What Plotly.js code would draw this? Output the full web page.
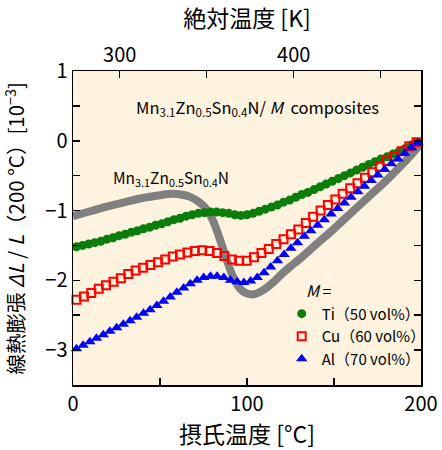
<!DOCTYPE html>
<html><head><meta charset="utf-8">
<script src="https://cdn.plot.ly/plotly-3.0.1.min.js"></script>
<style>html,body{margin:0;padding:0;background:#fff;}</style>
</head><body><div id="chart" style="width:442px;height:450px;"></div>
<script>
// Pure Mn3.1Zn0.5Sn0.4N (grey)
const pureT = [0,10,20,30,40,50,57,62,67,72,76,80,84,88,92,96,100,104,110,115,120,125,130,140,150,160,170,180,190,200];
const pureV = [-1.08,-1.01,-0.94,-0.88,-0.82,-0.78,-0.76,-0.77,-0.80,-0.87,-0.96,-1.12,-1.38,-1.68,-1.95,-2.12,-2.19,-2.20,-2.13,-2.03,-1.91,-1.80,-1.70,-1.48,-1.26,-1.03,-0.80,-0.57,-0.32,-0.04];
// M = Ti (50 vol%)
const tiT = [2,5.5,9,12.5,16,19.5,23,26.5,30,33.5,37,40.5,44,47.5,51,54.5,58,61.5,65,68.5,72,75.5,79,82.5,86,89.5,93,96.5,100,103.5,107,110.5,114,117.5,121,124.5,128,131.5,135,138.5,142,145.5,149,152.5,156,159.5,163,166.5,170,173.5,177,180.5,184,187.5,191,194.5,198];
const tiV = [-1.52,-1.50,-1.48,-1.46,-1.44,-1.41,-1.39,-1.36,-1.34,-1.31,-1.29,-1.26,-1.24,-1.21,-1.19,-1.16,-1.13,-1.11,-1.08,-1.06,-1.04,-1.03,-1.02,-1.02,-1.03,-1.04,-1.06,-1.07,-1.06,-1.04,-1.01,-0.98,-0.95,-0.92,-0.88,-0.85,-0.81,-0.77,-0.74,-0.70,-0.66,-0.62,-0.58,-0.54,-0.50,-0.46,-0.42,-0.38,-0.34,-0.30,-0.26,-0.23,-0.19,-0.15,-0.11,-0.06,-0.02];
// M = Cu (60 vol%)
const cuT = [2,6.3,10.5,14.8,19,23.3,27.5,31.8,36,40.3,44.5,48.8,53,57.3,61.5,65.8,70,74.3,78.5,82.8,87,91.3,95.5,99.8,104,108.3,112.5,116.8,121,125.3,129.5,133.8,138,142.3,146.5,150.8,155,159.3,163.5,167.8,172,176.3,180.5,184.8,189,193.3,197.5];
const cuV = [-2.28,-2.23,-2.18,-2.12,-2.07,-2.02,-1.97,-1.91,-1.86,-1.82,-1.78,-1.74,-1.70,-1.66,-1.63,-1.60,-1.58,-1.57,-1.58,-1.61,-1.65,-1.70,-1.72,-1.72,-1.67,-1.61,-1.55,-1.48,-1.41,-1.34,-1.27,-1.18,-1.09,-1.00,-0.92,-0.84,-0.76,-0.68,-0.61,-0.53,-0.45,-0.37,-0.29,-0.22,-0.15,-0.08,-0.02];
// M = Al (70 vol%)
const alT = [2,5.8,9.7,13.5,17.4,21.2,25.1,28.9,32.8,36.6,40.5,44.3,48.2,52,55.9,59.7,63.6,67.4,71.3,75.1,79,82.8,86.7,90.5,94.4,98.2,102.1,105.9,109.8,113.6,117.5,121.3,125.2,129,132.9,136.7,140.6,144.4,148.3,152.1,156,159.8,163.7,167.5,171.4,175.2,179.1,182.9,186.8,190.6,194.5,198.3];
const alV = [-2.98,-2.93,-2.88,-2.83,-2.78,-2.73,-2.68,-2.63,-2.58,-2.53,-2.47,-2.42,-2.36,-2.30,-2.24,-2.17,-2.11,-2.05,-2.00,-1.96,-1.94,-1.94,-1.96,-2.00,-2.02,-2.03,-2.01,-1.96,-1.89,-1.81,-1.72,-1.63,-1.54,-1.46,-1.37,-1.29,-1.21,-1.13,-1.05,-0.97,-0.89,-0.81,-0.73,-0.65,-0.57,-0.49,-0.41,-0.33,-0.26,-0.18,-0.10,-0.03];

const seriesNames = ['Ti（50 vol%）','Cu（60 vol%）','Al（70 vol%）'];
const xTickVals = [0,50,100,150,200];
const xTickText = ['0','','100','','200'];
const kTickVals = [300,350,400,450];
const kTickText = ['300','','400',''];
const yTickVals = [-3,-2.5,-2,-1.5,-1,-0.5,0,0.5,1];
const yTickText = ['−3','','−2','','−1','','0','','1'];

const FONT = '"Noto Sans CJK JP", "Noto Sans", sans-serif';

const traces = [
  {x: pureT, y: pureV, mode:'lines', line:{color:'#808080', width:8, shape:'spline'}, showlegend:false, cliponaxis:false, hoverinfo:'skip'},
  {x: tiT, y: tiV, mode:'markers', name: seriesNames[0], legendgroup:'a', marker:{symbol:'circle', size:9, color:'#0a7d0a'}, cliponaxis:false},
  {x: cuT, y: cuV, mode:'markers', name: seriesNames[1], legendgroup:'b', marker:{symbol:'square-open', size:8, color:'#ff0000', line:{width:2}}, cliponaxis:false},
  {x: alT, y: alV, mode:'markers', name: seriesNames[2], legendgroup:'c', marker:{symbol:'triangle-up', size:10, color:'#0000ff'}, cliponaxis:false},
  {x: [], y: [], xaxis:'x2', yaxis:'y', showlegend:false}
];

const axisCommon = {showline:true, linecolor:'#000', linewidth:1.5, ticks:'inside', ticklen:7, tickwidth:1.5, tickcolor:'#000', showgrid:false, zeroline:false, tickfont:{size:20, color:'#000', family:FONT}};

const layout = {
  width:442, height:450,
  margin:{l:73, r:20, t:71, b:65},
  paper_bgcolor:'#ffffff', plot_bgcolor:'#fef3df',
  font:{family:FONT, color:'#000'},
  xaxis: Object.assign({}, axisCommon, {range:[0,200], tickmode:'array', tickvals:xTickVals, ticktext:xTickText, mirror:false,
    title:{text:'摂氏温度 [°C]', font:{size:23, family:FONT}, standoff:8}}),
  xaxis2: Object.assign({}, axisCommon, {range:[273.15,473.15], overlaying:'x', side:'top', anchor:'y', tickmode:'array', tickvals:kTickVals, ticktext:kTickText,
    title:{text:'絶対温度 [K]', font:{size:23, family:FONT}, standoff:8}}),
  yaxis: Object.assign({}, axisCommon, {range:[-3.5,1], tickmode:'array', tickvals:yTickVals, ticktext:yTickText, mirror:'ticks'}),
  legend:{x:0.598, y:0.279, xanchor:'left', yanchor:'top', bgcolor:'rgba(0,0,0,0)', font:{size:15, family:FONT},
    tracegroupgap:0, itemwidth:30},
  annotations:[
    {xref:'paper', yref:'paper', x:-0.168, y:0.5, xanchor:'center', yanchor:'middle', showarrow:false, textangle:-90,
     text:'線熱膨張 <i>ΔL</i> / <i>L</i>（200 °C）[10<sup>−3</sup>]', font:{size:20.5, family:FONT}},
    {xref:'paper', yref:'paper', x:0.708, y:0.301, xanchor:'center', yanchor:'middle', showarrow:false,
     text:'<i>M</i> =', font:{size:16, family:FONT}},
    {xref:'paper', yref:'paper', x:0.529, y:0.883, xanchor:'center', yanchor:'middle', showarrow:false,
     text:'Mn<sub>3.1</sub>Zn<sub>0.5</sub>Sn<sub>0.4</sub>N/ <i>M</i>  composites', font:{size:16.5, family:FONT}},
    {xref:'paper', yref:'paper', x:0.283, y:0.659, xanchor:'center', yanchor:'middle', showarrow:false,
     text:'Mn<sub>3.1</sub>Zn<sub>0.5</sub>Sn<sub>0.4</sub>N', font:{size:15.5, family:FONT}}
  ]
};

Plotly.newPlot('chart', traces, layout, {displayModeBar:false, staticPlot:true});
</script></body></html>
